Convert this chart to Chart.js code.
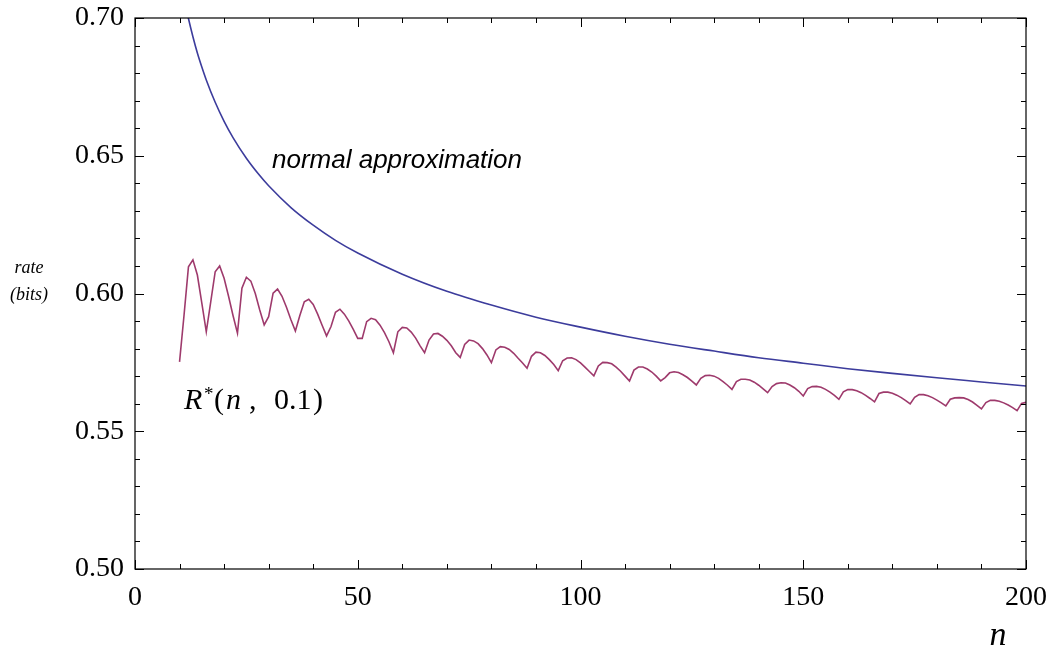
<!DOCTYPE html>
<html>
<head>
<meta charset="utf-8">
<script src="https://cdn.jsdelivr.net/npm/chart.js@4.4.1/dist/chart.umd.min.js"></script>
<style>
  body { margin: 0; background: #fff; }
  canvas { display: block; }
</style>
</head>
<body>
<canvas id="rateChart" width="1051" height="650"></canvas>
<script>
// R*(n, 0.1), one value per n starting at n = 10
const rateStartN = 10;
const rateValues = [
  0.5752, 0.5920, 0.6097, 0.6122, 0.6067, 0.5965, 0.5861, 0.5970, 0.6079, 0.6100, // 10-19
  0.6055, 0.5990, 0.5920, 0.5856, 0.6019, 0.6059, 0.6045, 0.6000, 0.5940, 0.5886, // 20-29
  0.5916, 0.6001, 0.6016, 0.5990, 0.5950, 0.5905, 0.5864, 0.5920, 0.5970, 0.5979, // 30-39
  0.5960, 0.5925, 0.5885, 0.5846, 0.5880, 0.5932, 0.5943, 0.5925, 0.5900, 0.5870, // 40-49
  0.5837, 0.5837, 0.5898, 0.5910, 0.5905, 0.5885, 0.5858, 0.5825, 0.5785, 0.5861, // 50-59
  0.5877, 0.5875, 0.5860, 0.5838, 0.5810, 0.5785, 0.5831, 0.5853, 0.5855, 0.5845, // 60-69
  0.5830, 0.5810, 0.5785, 0.5768, 0.5815, 0.5831, 0.5828, 0.5818, 0.5800, 0.5777, // 70-79
  0.5749, 0.5795, 0.5807, 0.5805, 0.5797, 0.5783, 0.5765, 0.5748, 0.5729, 0.5772, // 80-89
  0.5787, 0.5785, 0.5775, 0.5760, 0.5742, 0.5720, 0.5756, 0.5766, 0.5767, 0.5760, // 90-99
  0.5748, 0.5733, 0.5717, 0.5701, 0.5737, 0.5750, 0.5749, 0.5745, 0.5733, 0.5718, // 100-109
  0.5700, 0.5682, 0.5722, 0.5733, 0.5733, 0.5726, 0.5715, 0.5700, 0.5683, 0.5695, // 110-119
  0.5712, 0.5716, 0.5713, 0.5705, 0.5695, 0.5682, 0.5668, 0.5692, 0.5702, 0.5703, // 120-129
  0.5700, 0.5692, 0.5680, 0.5667, 0.5652, 0.5680, 0.5689, 0.5689, 0.5686, 0.5678, // 130-139
  0.5667, 0.5654, 0.5640, 0.5662, 0.5673, 0.5676, 0.5675, 0.5668, 0.5658, 0.5645, // 140-149
  0.5628, 0.5655, 0.5662, 0.5663, 0.5660, 0.5652, 0.5642, 0.5630, 0.5616, 0.5643, // 150-159
  0.5651, 0.5651, 0.5647, 0.5640, 0.5630, 0.5619, 0.5607, 0.5637, 0.5642, 0.5642, // 160-169
  0.5638, 0.5631, 0.5622, 0.5611, 0.5599, 0.5623, 0.5633, 0.5633, 0.5629, 0.5622, // 170-179
  0.5613, 0.5603, 0.5592, 0.5616, 0.5621, 0.5622, 0.5621, 0.5615, 0.5606, 0.5594, // 180-189
  0.5581, 0.5604, 0.5612, 0.5612, 0.5609, 0.5603, 0.5595, 0.5586, 0.5575, 0.5601, // 190-199
  0.5605                                                                          // 200
];

// normal approximation curve, read at these n
const normalN = [11.5, 12, 13, 14, 15, 16, 18, 20, 22, 25, 28, 30, 35, 40, 45, 50,
  60, 70, 80, 90, 100, 110, 120, 130, 140, 150, 160, 170, 180, 190, 200];
const normalValues = [0.7036, 0.6998, 0.6932, 0.6873, 0.6822, 0.6775, 0.6694, 0.6625,
  0.6566, 0.6491, 0.6428, 0.6391, 0.6312, 0.6248, 0.6193, 0.6147, 0.6070, 0.6008,
  0.5958, 0.5914, 0.5878, 0.5845, 0.5816, 0.5791, 0.5767, 0.5747, 0.5727, 0.5710,
  0.5694, 0.5679, 0.5664];

const xTicks = [0, 50, 100, 150, 200];
const yTicks = [0.50, 0.55, 0.60, 0.65, 0.70];

const ratePoints = rateValues.map((v, i) => ({ x: rateStartN + i, y: v }));
const normalPoints = normalN.map((n, i) => ({ x: n, y: normalValues[i] }));

const serif = '"Liberation Serif", "Times New Roman", serif';

const frameAndText = {
  id: 'frameAndText',
  afterDraw(chart) {
    const c = chart.ctx, a = chart.chartArea;
    const xs = chart.scales.x, ys = chart.scales.y;
    c.save();
    c.strokeStyle = '#000';
    c.lineWidth = 1.2;
    c.strokeRect(a.left, a.top, a.right - a.left, a.bottom - a.top);

    // inward ticks on all four sides
    c.lineWidth = 1;
    for (let n = 0; n <= 200; n += 10) {
      const len = n % 50 === 0 ? 9 : 5;
      const px = Math.round(xs.getPixelForValue(n)) + 0.5;
      c.beginPath();
      c.moveTo(px, a.bottom); c.lineTo(px, a.bottom - len);
      c.moveTo(px, a.top); c.lineTo(px, a.top + len);
      c.stroke();
    }
    for (let k = 50; k <= 70; k++) {
      const len = k % 5 === 0 ? 9 : 5;
      const py = Math.round(ys.getPixelForValue(k / 100)) + 0.5;
      c.beginPath();
      c.moveTo(a.left, py); c.lineTo(a.left + len, py);
      c.moveTo(a.right, py); c.lineTo(a.right - len, py);
      c.stroke();
    }

    c.fillStyle = '#000';
    c.textBaseline = 'alphabetic';
    // y axis title
    c.textAlign = 'center';
    c.font = 'italic 18px ' + serif;
    c.fillText('rate', 29, 273);
    c.fillText('(bits)', 29, 300);
    // x axis title
    c.font = 'italic 34px ' + serif;
    c.fillText('n', 998, 645);

    // curve labels
    c.textAlign = 'left';
    c.font = 'italic 26px "Liberation Sans", Arial, sans-serif';
    c.fillText('normal approximation', 272, 168);

    c.font = 'italic 30px ' + serif;
    c.fillText('R', 184, 409);
    c.font = '19px ' + serif;
    c.fillText('*', 204, 400);
    c.font = '30px ' + serif;
    c.fillText('(', 214, 409);
    c.font = 'italic 30px ' + serif;
    c.fillText('n', 226, 409);
    c.font = '30px ' + serif;
    c.fillText(',', 249, 409);
    c.fillText('0.1', 274, 409);
    c.fillText(')', 313, 409);
    c.restore();
  }
};

new Chart(document.getElementById('rateChart').getContext('2d'), {
  type: 'line',
  data: {
    datasets: [{
      label: 'normal approximation',
      data: normalPoints,
      borderColor: '#3c3c9c',
      borderWidth: 1.6,
      pointRadius: 0,
      cubicInterpolationMode: 'monotone'
    }, {
      label: 'R*(n, 0.1)',
      data: ratePoints,
      borderColor: '#9e3a6c',
      borderWidth: 1.6,
      pointRadius: 0,
      tension: 0
    }]
  },
  options: {
    responsive: false,
    animation: false,
    layout: { padding: { left: 0, right: 25, top: 18, bottom: 0 } },
    plugins: { legend: { display: false }, tooltip: { enabled: false } },
    scales: {
      x: {
        type: 'linear',
        min: 0,
        max: 200,
        afterBuildTicks: s => { s.ticks = xTicks.map(v => ({ value: v })); },
        afterFit: s => { s.height = 81; s.paddingLeft = 0; s.paddingRight = 0; },
        grid: { display: false, drawTicks: false },
        border: { display: false },
        ticks: { padding: 12, color: '#000', font: { family: serif, size: 28 }, maxRotation: 0 }
      },
      y: {
        min: 0.5,
        max: 0.7,
        afterBuildTicks: s => { s.ticks = yTicks.map(v => ({ value: v })); },
        afterFit: s => { s.width = 135; s.paddingTop = 0; s.paddingBottom = 0; },
        grid: { display: false, drawTicks: false },
        border: { display: false },
        ticks: { padding: 11, color: '#000', font: { family: serif, size: 28 },
          callback: v => v.toFixed(2) }
      }
    }
  },
  plugins: [frameAndText]
});
</script>
</body>
</html>
